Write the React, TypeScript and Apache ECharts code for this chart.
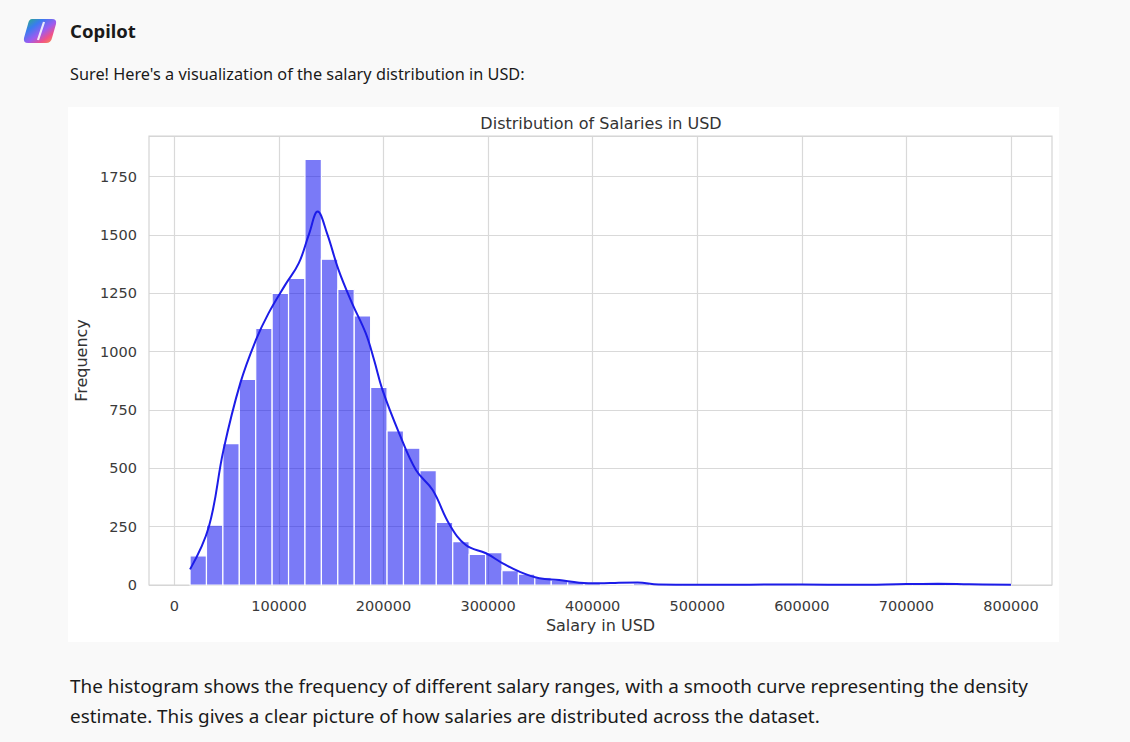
import React, { useEffect, useRef } from "react";
import * as echarts from "echarts";

// Histogram definition (bin edges) and counts
const BIN_START = 15000;
const BIN_WIDTH = 15700;
const binCounts = [
  125, 256, 606, 881, 1100, 1250, 1314, 1824, 1396, 1267,
  1153, 847, 660, 586, 490, 268, 186, 131, 139, 61,
  47, 31, 21, 14, 8, 5, 3, 8, 3, 1,
  1, 0, 0, 0, 1, 0, 0, 2, 0, 0,
  0, 0, 0, 2, 3, 2, 2, 1, 0, 1,
];

// Density curve (scaled to counts)
const kdeX = [
  15000, 33000, 47000, 63000, 78000, 90000, 106000, 119000, 129000, 137000,
  146000, 157000, 170000, 183000, 191000, 199000, 215000, 231000, 247000, 263000,
  279000, 298000, 314000, 330000, 349000, 368000, 387000, 406000, 425000, 443000,
  463000, 500000, 600000, 650000, 700000, 730000, 760000, 800000,
];
const kdeY = [
  67, 250, 579, 864, 1050, 1164, 1286, 1379, 1507, 1600,
  1507, 1350, 1207, 1079, 964, 836, 650, 493, 407, 260,
  170, 136, 93, 57, 29, 21, 10, 7, 10, 11,
  2, 1, 2, 1, 4, 5, 3, 1,
];

const xTicks = [0, 100000, 200000, 300000, 400000, 500000, 600000, 700000, 800000];

const TITLE = "Distribution of Salaries in USD";
const X_NAME = "Salary in USD";
const Y_NAME = "Frequency";
const HEADER = "Copilot";
const INTRO = "Sure! Here's a visualization of the salary distribution in USD:";
const OUTRO_1 =
  "The histogram shows the frequency of different salary ranges, with a smooth curve representing the density";
const OUTRO_2 =
  "estimate. This gives a clear picture of how salaries are distributed across the dataset.";

const LOGO_D =
  "M7 0 H27 Q32 0 31 5 L27 19 Q26 24 21 24 H3 Q-2 24 -1 19 L3 5 Q4 0 7 0 Z";
echarts.graphic.registerShape("copilotLogo", echarts.graphic.extendPath(LOGO_D, {}) as any);

export default function App() {
  const ref = useRef<HTMLDivElement>(null);

  useEffect(() => {
    if (!ref.current) return;
    const chart = echarts.init(ref.current, undefined, { renderer: "svg" });

    const barData = binCounts.map((c, i) => [
      BIN_START + i * BIN_WIDTH,
      BIN_START + (i + 1) * BIN_WIDTH,
      c,
    ]);
    const kdeData = kdeX.map((x, i) => [x, kdeY[i]]);

    const chartFont = "'DejaVu Sans', sans-serif";
    const pageFont = "'Segoe UI', 'Noto Sans', sans-serif";

    chart.setOption({
      animation: false,
      backgroundColor: "#f9f9f9",
      grid: {
        left: 149,
        right: 78,
        top: 136,
        bottom: 157,
        show: true,
        borderColor: "#d4d4d4",
        borderWidth: 1.2,
        backgroundColor: "transparent",
        z: 1,
      },
      xAxis: {
        type: "value",
        min: -24250,
        max: 839250,
        splitNumber: 9,
        name: X_NAME,
        nameLocation: "middle",
        nameGap: 31,
        nameTextStyle: { fontFamily: chartFont, fontSize: 16, color: "#333" },
        axisLine: { show: false },
        axisTick: { show: false, customValues: xTicks },
        axisLabel: {
          customValues: xTicks,
          fontFamily: chartFont,
          fontSize: 14.5,
          color: "#3a3a3a",
          margin: 13,
          formatter: (v: number) => String(v),
        },
        splitLine: { show: true, lineStyle: { color: "#d9d9d9", width: 1.2 } },
      },
      yAxis: {
        type: "value",
        min: 0,
        max: 1924,
        interval: 250,
        name: Y_NAME,
        nameLocation: "middle",
        nameGap: 56,
        nameTextStyle: { fontFamily: chartFont, fontSize: 16, color: "#333" },
        axisLine: { show: false },
        axisTick: { show: false },
        axisLabel: {
          fontFamily: chartFont,
          fontSize: 14.5,
          color: "#3a3a3a",
          margin: 12,
          showMaxLabel: false,
          formatter: (v: number) => String(v),
        },
        splitLine: { show: true, lineStyle: { color: "#d9d9d9", width: 1.2 } },
      },
      graphic: [
        {
          type: "rect",
          z: -10,
          shape: { x: 68, y: 107, width: 991, height: 535 },
          style: { fill: "#ffffff" },
        },
        {
          type: "copilotLogo",
          x: 25,
          y: 19,
          z: 5,
          style: {
            fill: new echarts.graphic.LinearGradient(0, 0, 1, 1, [
              { offset: 0, color: "#2bb673" },
              { offset: 0.3, color: "#3a7bf0" },
              { offset: 0.55, color: "#9b5cf0" },
              { offset: 0.75, color: "#f0508a" },
              { offset: 1, color: "#f7a23a" },
            ]),
          },
        },
        {
          type: "line",
          z: 6,
          shape: { x1: 44, y1: 22, x2: 38, y2: 40 },
          style: { stroke: "rgba(255,255,255,0.85)", lineWidth: 2.2 },
        },
        {
          type: "text",
          x: 70,
          y: 30,
          style: {
            text: HEADER,
            fontFamily: pageFont,
            fontSize: 18.5,
            fontWeight: "bold",
            fill: "#1a1a1a",
            verticalAlign: "middle",
          },
        },
        {
          type: "text",
          x: 70,
          y: 74,
          style: {
            text: INTRO,
            fontFamily: pageFont,
            fontSize: 16.3,
            fill: "#1a1a1a",
            verticalAlign: "middle",
          },
        },
        {
          type: "text",
          x: 70,
          y: 686,
          style: {
            text: OUTRO_1,
            fontFamily: pageFont,
            fontSize: 18.9,
            fill: "#1a1a1a",
            verticalAlign: "middle",
          },
        },
        {
          type: "text",
          x: 70,
          y: 716,
          style: {
            text: OUTRO_2,
            fontFamily: pageFont,
            fontSize: 18.9,
            fill: "#1a1a1a",
            verticalAlign: "middle",
          },
        },
        {
          type: "text",
          x: 601,
          y: 123,
          style: {
            text: TITLE,
            fontFamily: chartFont,
            fontSize: 16,
            fill: "#333",
            align: "center",
            verticalAlign: "middle",
          },
        },
      ],
      series: [
        {
          type: "custom",
          z: 2,
          encode: { x: [0, 1], y: 2 },
          data: barData,
          renderItem: (params: any, api: any) => {
            const p0 = api.coord([api.value(0), api.value(2)]);
            const p1 = api.coord([api.value(1), 0]);
            return {
              type: "rect",
              shape: { x: p0[0], y: p0[1], width: p1[0] - p0[0], height: p1[1] - p0[1] },
              style: { fill: "rgba(0,0,240,0.52)", stroke: "#ffffff", lineWidth: 1.2 },
            };
          },
        },
        {
          type: "line",
          z: 3,
          data: kdeData,
          smooth: 0.4,
          showSymbol: false,
          symbol: "none",
          lineStyle: { color: "#1c1ce8", width: 2 },
        },
      ],
    });

    return () => chart.dispose();
  }, []);

  return (
    <div
      ref={ref}
      style={{ position: "fixed", left: 0, top: 0, width: 1130, height: 742 }}
    />
  );
}
